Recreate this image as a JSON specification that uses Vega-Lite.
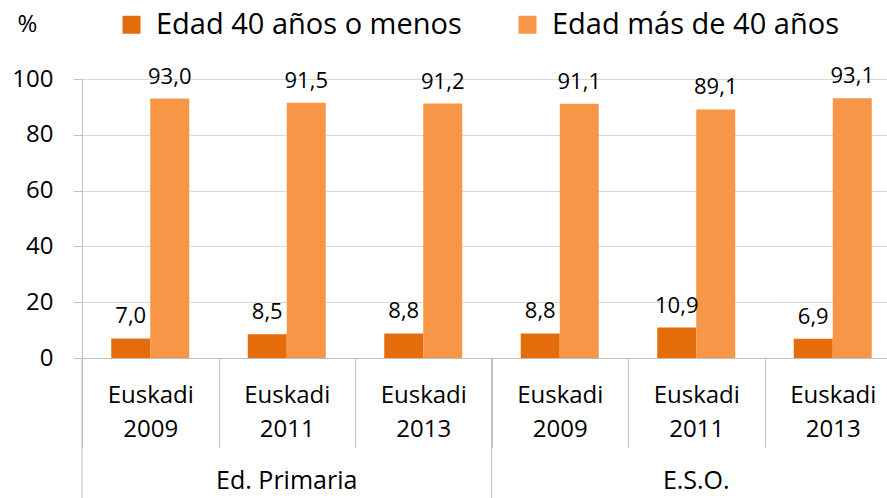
{
  "$schema": "https://vega.github.io/schema/vega-lite/v6.json",
  "autosize": {"type": "none"},
  "width": 805,
  "height": 279,
  "padding": {"left": 82, "top": 79, "right": 0, "bottom": 140},
  "background": "white",
  "config": {
    "font": "Open Sans",
    "view": {"stroke": null},
    "locale": {"number": {"decimal": ",", "thousands": ".", "grouping": [3], "currency": ["", " €"]}}
  },
  "datasets": {
    "barras": [
      {"cat": "Ed. Primaria|2009", "serie": "Edad 40 años o menos", "valor": 7.0},
      {"cat": "Ed. Primaria|2009", "serie": "Edad más de 40 años", "valor": 93.0},
      {"cat": "Ed. Primaria|2011", "serie": "Edad 40 años o menos", "valor": 8.5},
      {"cat": "Ed. Primaria|2011", "serie": "Edad más de 40 años", "valor": 91.5},
      {"cat": "Ed. Primaria|2013", "serie": "Edad 40 años o menos", "valor": 8.8},
      {"cat": "Ed. Primaria|2013", "serie": "Edad más de 40 años", "valor": 91.2},
      {"cat": "E.S.O.|2009", "serie": "Edad 40 años o menos", "valor": 8.8},
      {"cat": "E.S.O.|2009", "serie": "Edad más de 40 años", "valor": 91.1},
      {"cat": "E.S.O.|2011", "serie": "Edad 40 años o menos", "valor": 10.9},
      {"cat": "E.S.O.|2011", "serie": "Edad más de 40 años", "valor": 89.1},
      {"cat": "E.S.O.|2013", "serie": "Edad 40 años o menos", "valor": 6.9},
      {"cat": "E.S.O.|2013", "serie": "Edad más de 40 años", "valor": 93.1}
    ],
    "grupos": [
      {"grupo": "Ed. Primaria", "cat": "Ed. Primaria|2011"},
      {"grupo": "E.S.O.", "cat": "E.S.O.|2011"}
    ],
    "separadores": [
      {"cat": "Ed. Primaria|2009"},
      {"cat": "E.S.O.|2009"}
    ]
  },
  "layer": [
    {
      "data": {"name": "barras"},
      "mark": {"type": "bar"},
      "encoding": {
        "x": {
          "field": "cat", "type": "nominal",
          "scale": {
            "domain": ["Ed. Primaria|2009", "Ed. Primaria|2011", "Ed. Primaria|2013", "E.S.O.|2009", "E.S.O.|2011", "E.S.O.|2013"],
            "range": [0, 819], "paddingInner": 0, "paddingOuter": 0
          },
          "axis": {
            "title": null,
            "labelExpr": "isString(datum.value) && indexof(datum.value, '|') >= 0 ? ['Euskadi', split(datum.value, '|')[1]] : ''",
            "labelFontSize": 24,
            "labelLineHeight": 34,
            "labelPadding": -64,
            "labelAngle": 0,
            "labelColor": "#000000",
            "tickBand": "extent",
            "tickSize": 89,
            "tickColor": "#bfbfbf",
            "domainColor": "#bfbfbf",
            "grid": false
          }
        },
        "xOffset": {"field": "serie", "type": "nominal", "sort": null, "scale": {"paddingInner": 0, "paddingOuter": 0.75}},
        "y": {
          "field": "valor", "type": "quantitative",
          "scale": {"domain": [0, 100]},
          "axis": {
            "title": "%",
            "titleAngle": 0,
            "titleX": -55,
            "titleY": -55,
            "titleAlign": "center",
            "titleBaseline": "middle",
            "titleFontSize": 24,
            "titleFontWeight": "normal",
            "titleColor": "#000000",
            "values": [0, 20, 40, 60, 80, 100],
            "tickSize": 9,
            "labelPadding": 20,
            "labelFontSize": 24,
            "labelColor": "#000000",
            "grid": true,
            "gridColor": "#d9d9d9",
            "domainColor": "#bfbfbf",
            "tickColor": "#bfbfbf"
          }
        },
        "color": {
          "field": "serie", "type": "nominal", "sort": null,
          "scale": {"range": ["#E46C0A", "#F79646"]},
          "legend": {
            "title": null,
            "orient": "none",
            "legendX": 35,
            "legendY": -69,
            "direction": "horizontal",
            "symbolType": "square",
            "symbolSize": 324,
            "symbolStrokeWidth": 0,
            "labelFontSize": 29,
            "labelOffset": 10,
            "labelLimit": 0,
            "columnPadding": 51,
            "labelColor": "#000000"
          }
        }
      }
    },
    {
      "data": {"name": "barras"},
      "mark": {"type": "text", "baseline": "alphabetic", "dy": -15, "fontSize": 22, "color": "#000000"},
      "encoding": {
        "x": {"field": "cat", "type": "nominal"},
        "xOffset": {"field": "serie", "type": "nominal", "sort": null},
        "y": {"field": "valor", "type": "quantitative"},
        "text": {"field": "valor", "type": "quantitative", "format": ".1f"}
      }
    },
    {
      "data": {"name": "grupos"},
      "mark": {"type": "text", "baseline": "middle", "fontSize": 25, "color": "#000000"},
      "encoding": {
        "x": {"field": "cat", "type": "nominal"},
        "y": {"datum": -44},
        "text": {"field": "grupo", "type": "nominal"}
      }
    },
    {
      "data": {"name": "separadores"},
      "mark": {"type": "rule", "color": "#bfbfbf", "strokeWidth": 1},
      "encoding": {
        "x": {"field": "cat", "type": "nominal", "bandPosition": 0},
        "y": {"datum": 0},
        "y2": {"datum": -51}
      }
    }
  ]
}
